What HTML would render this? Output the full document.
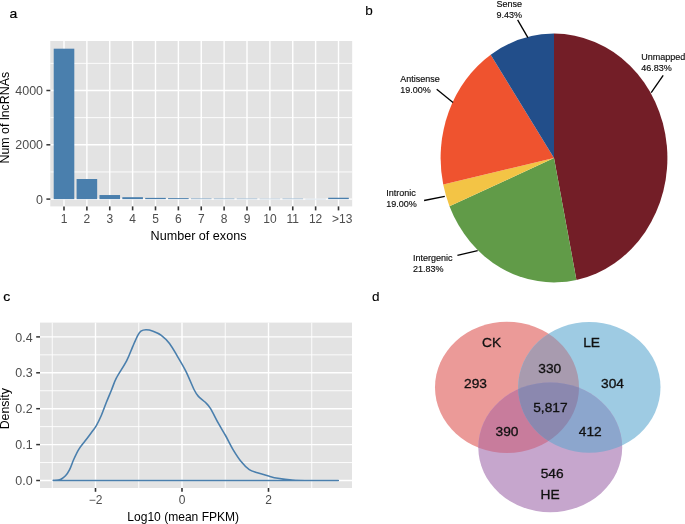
<!DOCTYPE html>
<html><head><meta charset="utf-8"><style>
html,body{margin:0;padding:0;background:#fff;width:685px;height:524px;overflow:hidden}
svg{display:block;filter:blur(0.35px)}
text{font-family:"Liberation Sans",sans-serif}
</style></head><body>
<svg width="685" height="524" viewBox="0 0 685 524">
<rect width="685" height="524" fill="#fff"/>
<rect x="50.3" y="41" width="301.9" height="165.4" fill="#E3E3E3"/>
<line x1="50.3" x2="352.2" y1="171.95" y2="171.95" stroke="#FFFFFF" stroke-width="0.9"/>
<line x1="50.3" x2="352.2" y1="117.65" y2="117.65" stroke="#FFFFFF" stroke-width="0.9"/>
<line x1="50.3" x2="352.2" y1="63.35" y2="63.35" stroke="#FFFFFF" stroke-width="0.9"/>
<line x1="50.3" x2="352.2" y1="199.1" y2="199.1" stroke="#FFFFFF" stroke-width="1.4"/>
<line x1="50.3" x2="352.2" y1="144.8" y2="144.8" stroke="#FFFFFF" stroke-width="1.4"/>
<line x1="50.3" x2="352.2" y1="90.5" y2="90.5" stroke="#FFFFFF" stroke-width="1.4"/>
<line x1="64" x2="64" y1="41" y2="206.4" stroke="#FFFFFF" stroke-width="1.4"/>
<line x1="86.88" x2="86.88" y1="41" y2="206.4" stroke="#FFFFFF" stroke-width="1.4"/>
<line x1="109.75" x2="109.75" y1="41" y2="206.4" stroke="#FFFFFF" stroke-width="1.4"/>
<line x1="132.62" x2="132.62" y1="41" y2="206.4" stroke="#FFFFFF" stroke-width="1.4"/>
<line x1="155.5" x2="155.5" y1="41" y2="206.4" stroke="#FFFFFF" stroke-width="1.4"/>
<line x1="178.38" x2="178.38" y1="41" y2="206.4" stroke="#FFFFFF" stroke-width="1.4"/>
<line x1="201.25" x2="201.25" y1="41" y2="206.4" stroke="#FFFFFF" stroke-width="1.4"/>
<line x1="224.12" x2="224.12" y1="41" y2="206.4" stroke="#FFFFFF" stroke-width="1.4"/>
<line x1="247" x2="247" y1="41" y2="206.4" stroke="#FFFFFF" stroke-width="1.4"/>
<line x1="269.88" x2="269.88" y1="41" y2="206.4" stroke="#FFFFFF" stroke-width="1.4"/>
<line x1="292.75" x2="292.75" y1="41" y2="206.4" stroke="#FFFFFF" stroke-width="1.4"/>
<line x1="315.62" x2="315.62" y1="41" y2="206.4" stroke="#FFFFFF" stroke-width="1.4"/>
<line x1="338.5" x2="338.5" y1="41" y2="206.4" stroke="#FFFFFF" stroke-width="1.4"/>
<rect x="53.71" y="48.69" width="20.59" height="150.41" fill="#4A7FAD"/>
<rect x="76.58" y="179.01" width="20.59" height="20.09" fill="#4A7FAD"/>
<rect x="99.46" y="195.03" width="20.59" height="4.07" fill="#4A7FAD"/>
<rect x="122.33" y="197.2" width="20.59" height="1.9" fill="#4A7FAD"/>
<rect x="145.21" y="197.88" width="20.59" height="1.22" fill="#4A7FAD"/>
<rect x="168.08" y="198.15" width="20.59" height="0.95" fill="#4A7FAD"/>
<rect x="190.96" y="198.61" width="20.59" height="0.49" fill="#4A7FAD"/>
<rect x="213.83" y="198.67" width="20.59" height="0.43" fill="#4A7FAD"/>
<rect x="236.71" y="198.72" width="20.59" height="0.38" fill="#4A7FAD"/>
<rect x="259.58" y="198.83" width="20.59" height="0.27" fill="#4A7FAD"/>
<rect x="282.46" y="198.72" width="20.59" height="0.38" fill="#4A7FAD"/>
<rect x="305.33" y="198.94" width="20.59" height="0.16" fill="#4A7FAD"/>
<rect x="328.21" y="197.74" width="20.59" height="1.36" fill="#4A7FAD"/>
<line x1="46.4" x2="50.3" y1="199.1" y2="199.1" stroke="#333333" stroke-width="1.5"/>
<text transform="translate(43,203.73) scale(1.04,1)" font-size="12" text-anchor="end" fill="#4D4D4D">0</text>
<line x1="46.4" x2="50.3" y1="144.8" y2="144.8" stroke="#333333" stroke-width="1.5"/>
<text transform="translate(43,149.43) scale(1.04,1)" font-size="12" text-anchor="end" fill="#4D4D4D">2000</text>
<line x1="46.4" x2="50.3" y1="90.5" y2="90.5" stroke="#333333" stroke-width="1.5"/>
<text transform="translate(43,95.13) scale(1.04,1)" font-size="12" text-anchor="end" fill="#4D4D4D">4000</text>
<line x1="64" x2="64" y1="206.4" y2="210.4" stroke="#333333" stroke-width="1.6"/>
<text transform="translate(64,222.8)" font-size="12" text-anchor="middle" fill="#4D4D4D">1</text>
<line x1="86.88" x2="86.88" y1="206.4" y2="210.4" stroke="#333333" stroke-width="1.6"/>
<text transform="translate(86.88,222.8)" font-size="12" text-anchor="middle" fill="#4D4D4D">2</text>
<line x1="109.75" x2="109.75" y1="206.4" y2="210.4" stroke="#333333" stroke-width="1.6"/>
<text transform="translate(109.75,222.8)" font-size="12" text-anchor="middle" fill="#4D4D4D">3</text>
<line x1="132.62" x2="132.62" y1="206.4" y2="210.4" stroke="#333333" stroke-width="1.6"/>
<text transform="translate(132.62,222.8)" font-size="12" text-anchor="middle" fill="#4D4D4D">4</text>
<line x1="155.5" x2="155.5" y1="206.4" y2="210.4" stroke="#333333" stroke-width="1.6"/>
<text transform="translate(155.5,222.8)" font-size="12" text-anchor="middle" fill="#4D4D4D">5</text>
<line x1="178.38" x2="178.38" y1="206.4" y2="210.4" stroke="#333333" stroke-width="1.6"/>
<text transform="translate(178.38,222.8)" font-size="12" text-anchor="middle" fill="#4D4D4D">6</text>
<line x1="201.25" x2="201.25" y1="206.4" y2="210.4" stroke="#333333" stroke-width="1.6"/>
<text transform="translate(201.25,222.8)" font-size="12" text-anchor="middle" fill="#4D4D4D">7</text>
<line x1="224.12" x2="224.12" y1="206.4" y2="210.4" stroke="#333333" stroke-width="1.6"/>
<text transform="translate(224.12,222.8)" font-size="12" text-anchor="middle" fill="#4D4D4D">8</text>
<line x1="247" x2="247" y1="206.4" y2="210.4" stroke="#333333" stroke-width="1.6"/>
<text transform="translate(247,222.8)" font-size="12" text-anchor="middle" fill="#4D4D4D">9</text>
<line x1="269.88" x2="269.88" y1="206.4" y2="210.4" stroke="#333333" stroke-width="1.6"/>
<text transform="translate(269.88,222.8)" font-size="12" text-anchor="middle" fill="#4D4D4D">10</text>
<line x1="292.75" x2="292.75" y1="206.4" y2="210.4" stroke="#333333" stroke-width="1.6"/>
<text transform="translate(292.75,222.8)" font-size="12" text-anchor="middle" fill="#4D4D4D">11</text>
<line x1="315.62" x2="315.62" y1="206.4" y2="210.4" stroke="#333333" stroke-width="1.6"/>
<text transform="translate(315.62,222.8)" font-size="12" text-anchor="middle" fill="#4D4D4D">12</text>
<line x1="338.5" x2="338.5" y1="206.4" y2="210.4" stroke="#333333" stroke-width="1.6"/>
<text transform="translate(342.2,222.8)" font-size="12" text-anchor="middle" fill="#4D4D4D">&gt;13</text>
<text transform="translate(198.5,240)" font-size="12.6" text-anchor="middle" fill="#000">Number of exons</text>
<text transform="translate(9.4,117.7) rotate(-90)" font-size="12.4" text-anchor="middle" fill="#000">Num of lncRNAs</text>
<text transform="translate(9.5,17.9) scale(1.12,1)" font-size="12.5" text-anchor="start" fill="#000" stroke="#000" stroke-width="0.2">a</text>
<rect x="40" y="322.6" width="312" height="165.4" fill="#E3E3E3"/>
<line x1="40" x2="352" y1="462.55" y2="462.55" stroke="#FFFFFF" stroke-width="0.9"/>
<line x1="40" x2="352" y1="426.65" y2="426.65" stroke="#FFFFFF" stroke-width="0.9"/>
<line x1="40" x2="352" y1="390.75" y2="390.75" stroke="#FFFFFF" stroke-width="0.9"/>
<line x1="40" x2="352" y1="354.85" y2="354.85" stroke="#FFFFFF" stroke-width="0.9"/>
<line x1="52.25" x2="52.25" y1="322.6" y2="488" stroke="#FFFFFF" stroke-width="0.9"/>
<line x1="138.75" x2="138.75" y1="322.6" y2="488" stroke="#FFFFFF" stroke-width="0.9"/>
<line x1="225.25" x2="225.25" y1="322.6" y2="488" stroke="#FFFFFF" stroke-width="0.9"/>
<line x1="311.75" x2="311.75" y1="322.6" y2="488" stroke="#FFFFFF" stroke-width="0.9"/>
<line x1="40" x2="352" y1="480.5" y2="480.5" stroke="#FFFFFF" stroke-width="1.4"/>
<line x1="40" x2="352" y1="444.6" y2="444.6" stroke="#FFFFFF" stroke-width="1.4"/>
<line x1="40" x2="352" y1="408.7" y2="408.7" stroke="#FFFFFF" stroke-width="1.4"/>
<line x1="40" x2="352" y1="372.8" y2="372.8" stroke="#FFFFFF" stroke-width="1.4"/>
<line x1="40" x2="352" y1="336.9" y2="336.9" stroke="#FFFFFF" stroke-width="1.4"/>
<line x1="95.5" x2="95.5" y1="322.6" y2="488" stroke="#FFFFFF" stroke-width="1.4"/>
<line x1="182" x2="182" y1="322.6" y2="488" stroke="#FFFFFF" stroke-width="1.4"/>
<line x1="268.5" x2="268.5" y1="322.6" y2="488" stroke="#FFFFFF" stroke-width="1.4"/>
<path d="M53.3,480.3 C54.48,480.15 58.37,480.15 60.4,479.4 C62.43,478.65 63.97,477.42 65.5,475.8 C67.03,474.18 68.23,472.42 69.6,469.7 C70.97,466.98 72.17,462.9 73.7,459.5 C75.23,456.1 76.92,452.37 78.8,449.3 C80.68,446.23 82.95,443.83 85,441.1 C87.05,438.37 89.23,435.45 91.1,432.9 C92.97,430.35 94.5,428.7 96.2,425.8 C97.9,422.9 99.6,419.42 101.3,415.5 C103,411.58 104.7,406.55 106.4,402.3 C108.1,398.05 109.85,394.02 111.5,390 C113.15,385.98 113.78,383.05 116.3,378.2 C118.82,373.35 123.87,366.17 126.6,360.9 C129.33,355.63 130.83,350.87 132.7,346.6 C134.57,342.33 136.43,337.87 137.8,335.3 C139.17,332.73 139.53,332.12 140.9,331.2 C142.27,330.28 143.97,329.8 146,329.8 C148.03,329.8 150.55,330.28 153.1,331.2 C155.65,332.12 158.57,333.25 161.3,335.3 C164.03,337.35 166.77,339.92 169.5,343.5 C172.23,347.08 174.98,352.2 177.7,356.8 C180.42,361.4 183.08,365.65 185.8,371.1 C188.52,376.55 191.93,385.33 194,389.5 C196.07,393.67 196.32,393.97 198.2,396.1 C200.08,398.23 203.27,400.25 205.3,402.3 C207.33,404.35 208.18,404.83 210.4,408.4 C212.62,411.97 216.03,419.1 218.6,423.7 C221.17,428.3 223.42,431.73 225.8,436 C228.18,440.27 230.35,445.05 232.9,449.3 C235.45,453.55 238.37,458.1 241.1,461.5 C243.83,464.9 246.58,467.82 249.3,469.7 C252.02,471.58 254.33,471.78 257.4,472.8 C260.47,473.82 264.28,474.88 267.7,475.8 C271.12,476.72 273.82,477.6 277.9,478.3 C281.98,479 286.42,479.63 292.2,480 C297.98,480.37 304.92,480.42 312.6,480.5 C320.28,480.58 334.02,480.5 338.3,480.5 L53.3,480.5 Z" fill="none" stroke="#4A7FAD" stroke-width="1.6" stroke-linejoin="round"/>
<line x1="36.2" x2="40" y1="480.5" y2="480.5" stroke="#333333" stroke-width="1.5"/>
<text transform="translate(32.6,485.13) scale(1.04,1)" font-size="12" text-anchor="end" fill="#4D4D4D">0.0</text>
<line x1="36.2" x2="40" y1="444.6" y2="444.6" stroke="#333333" stroke-width="1.5"/>
<text transform="translate(32.6,449.23) scale(1.04,1)" font-size="12" text-anchor="end" fill="#4D4D4D">0.1</text>
<line x1="36.2" x2="40" y1="408.7" y2="408.7" stroke="#333333" stroke-width="1.5"/>
<text transform="translate(32.6,413.33) scale(1.04,1)" font-size="12" text-anchor="end" fill="#4D4D4D">0.2</text>
<line x1="36.2" x2="40" y1="372.8" y2="372.8" stroke="#333333" stroke-width="1.5"/>
<text transform="translate(32.6,377.43) scale(1.04,1)" font-size="12" text-anchor="end" fill="#4D4D4D">0.3</text>
<line x1="36.2" x2="40" y1="336.9" y2="336.9" stroke="#333333" stroke-width="1.5"/>
<text transform="translate(32.6,341.53) scale(1.04,1)" font-size="12" text-anchor="end" fill="#4D4D4D">0.4</text>
<line x1="95.5" x2="95.5" y1="488" y2="491.8" stroke="#333333" stroke-width="1.6"/>
<text transform="translate(95.5,504.2)" font-size="12" text-anchor="middle" fill="#4D4D4D">&#8722;2</text>
<line x1="182" x2="182" y1="488" y2="491.8" stroke="#333333" stroke-width="1.6"/>
<text transform="translate(182,504.2)" font-size="12" text-anchor="middle" fill="#4D4D4D">0</text>
<line x1="268.5" x2="268.5" y1="488" y2="491.8" stroke="#333333" stroke-width="1.6"/>
<text transform="translate(268.5,504.2)" font-size="12" text-anchor="middle" fill="#4D4D4D">2</text>
<text transform="translate(183.2,521)" font-size="12.05" text-anchor="middle" fill="#000">Log10 (mean FPKM)</text>
<text transform="translate(8.6,408.7) rotate(-90)" font-size="12.4" text-anchor="middle" fill="#000">Density</text>
<text transform="translate(3.2,300.8) scale(1.12,1)" font-size="12.5" text-anchor="start" fill="#000" stroke="#000" stroke-width="0.2">c</text>
<path d="M554,158 L554,33.6 A113.4,124.4 0 0 1 576.44,279.94 Z" fill="#731E27"/>
<path d="M554,158 L576.44,279.94 A113.4,124.4 0 0 1 449.48,206.25 Z" fill="#619B48"/>
<path d="M554,158 L449.48,206.25 A113.4,124.4 0 0 1 443.22,184.6 Z" fill="#F3C445"/>
<path d="M554,158 L443.22,184.6 A113.4,124.4 0 0 1 490.67,54.8 Z" fill="#EF532F"/>
<path d="M554,158 L490.67,54.8 A113.4,124.4 0 0 1 554,33.6 Z" fill="#224E8A"/>
<line x1="517.6" y1="19.9" x2="527.9" y2="37.6" stroke="#000" stroke-width="1.3"/>
<line x1="663.2" y1="75.3" x2="651.2" y2="92.7" stroke="#000" stroke-width="1.3"/>
<line x1="436.7" y1="89.2" x2="453" y2="102.6" stroke="#000" stroke-width="1.3"/>
<line x1="424.1" y1="200.5" x2="444.8" y2="196.3" stroke="#000" stroke-width="1.3"/>
<line x1="457.4" y1="255.3" x2="477.7" y2="250.7" stroke="#000" stroke-width="1.3"/>
<text transform="translate(496.5,6.8)" font-size="9" text-anchor="start" fill="#111" stroke="#000" stroke-width="0.15">Sense</text>
<text transform="translate(496.5,17.7)" font-size="9" text-anchor="start" fill="#111" stroke="#000" stroke-width="0.15">9.43%</text>
<text transform="translate(641.2,59.7)" font-size="9" text-anchor="start" fill="#111" stroke="#000" stroke-width="0.15">Unmapped</text>
<text transform="translate(641.2,70.6)" font-size="9" text-anchor="start" fill="#111" stroke="#000" stroke-width="0.15">46.83%</text>
<text transform="translate(400.3,82.4)" font-size="9" text-anchor="start" fill="#111" stroke="#000" stroke-width="0.15">Antisense</text>
<text transform="translate(400.3,93.3)" font-size="9" text-anchor="start" fill="#111" stroke="#000" stroke-width="0.15">19.00%</text>
<text transform="translate(386.2,195.6)" font-size="9" text-anchor="start" fill="#111" stroke="#000" stroke-width="0.15">Intronic</text>
<text transform="translate(386.2,206.5)" font-size="9" text-anchor="start" fill="#111" stroke="#000" stroke-width="0.15">19.00%</text>
<text transform="translate(413,261)" font-size="9" text-anchor="start" fill="#111" stroke="#000" stroke-width="0.15">Intergenic</text>
<text transform="translate(413,271.9)" font-size="9" text-anchor="start" fill="#111" stroke="#000" stroke-width="0.15">21.83%</text>
<text transform="translate(365.3,14.6) scale(1.1,1)" font-size="12.3" text-anchor="start" fill="#000" stroke="#000" stroke-width="0.1">b</text>
<defs><clipPath id="cLE"><ellipse cx="589.3" cy="387.35" rx="71.2" ry="65.45" fill="#000"/></clipPath><clipPath id="cHE"><ellipse cx="550.25" cy="447.3" rx="71.95" ry="64.9" fill="#000"/></clipPath><clipPath id="cCK"><ellipse cx="507" cy="387.35" rx="72" ry="65.6" fill="#000"/></clipPath></defs>
<ellipse cx="507" cy="387.35" rx="72" ry="65.6" fill="#EB9A98"/>
<ellipse cx="589.3" cy="387.35" rx="71.2" ry="65.45" fill="#9ECBE3"/>
<ellipse cx="550.25" cy="447.3" rx="71.95" ry="64.9" fill="#C6A6CD"/>
<ellipse cx="507" cy="387.35" rx="72" ry="65.6" fill="#A89BAF" clip-path="url(#cLE)"/>
<ellipse cx="507" cy="387.35" rx="72" ry="65.6" fill="#C87C9C" clip-path="url(#cHE)"/>
<ellipse cx="589.3" cy="387.35" rx="71.2" ry="65.45" fill="#8CA6CD" clip-path="url(#cHE)"/>
<g clip-path="url(#cHE)"><ellipse cx="507" cy="387.35" rx="72" ry="65.6" fill="#8B88AF" clip-path="url(#cLE)"/></g>
<text transform="translate(491.6,346.9) scale(1.1,1)" font-size="12.5" text-anchor="middle" fill="#111" stroke="#111" stroke-width="0.3">CK</text>
<text transform="translate(591.6,346.9) scale(1.1,1)" font-size="12.5" text-anchor="middle" fill="#111" stroke="#111" stroke-width="0.3">LE</text>
<text transform="translate(475.5,387.5) scale(1.1,1)" font-size="12.5" text-anchor="middle" fill="#111" stroke="#111" stroke-width="0.3">293</text>
<text transform="translate(612.5,387.5) scale(1.1,1)" font-size="12.5" text-anchor="middle" fill="#111" stroke="#111" stroke-width="0.3">304</text>
<text transform="translate(549.7,373.3) scale(1.1,1)" font-size="12.5" text-anchor="middle" fill="#111" stroke="#111" stroke-width="0.3">330</text>
<text transform="translate(550.4,412.3) scale(1.1,1)" font-size="12.5" text-anchor="middle" fill="#111" stroke="#111" stroke-width="0.3">5,817</text>
<text transform="translate(507,435.5) scale(1.1,1)" font-size="12.5" text-anchor="middle" fill="#111" stroke="#111" stroke-width="0.3">390</text>
<text transform="translate(590.3,435.5) scale(1.1,1)" font-size="12.5" text-anchor="middle" fill="#111" stroke="#111" stroke-width="0.3">412</text>
<text transform="translate(552.1,478) scale(1.1,1)" font-size="12.5" text-anchor="middle" fill="#111" stroke="#111" stroke-width="0.3">546</text>
<text transform="translate(550,498.8) scale(1.1,1)" font-size="12.5" text-anchor="middle" fill="#111" stroke="#111" stroke-width="0.3">HE</text>
<text transform="translate(371.9,300.5) scale(1.1,1)" font-size="12.3" text-anchor="start" fill="#000" stroke="#000" stroke-width="0.1">d</text>
</svg>
</body></html>
